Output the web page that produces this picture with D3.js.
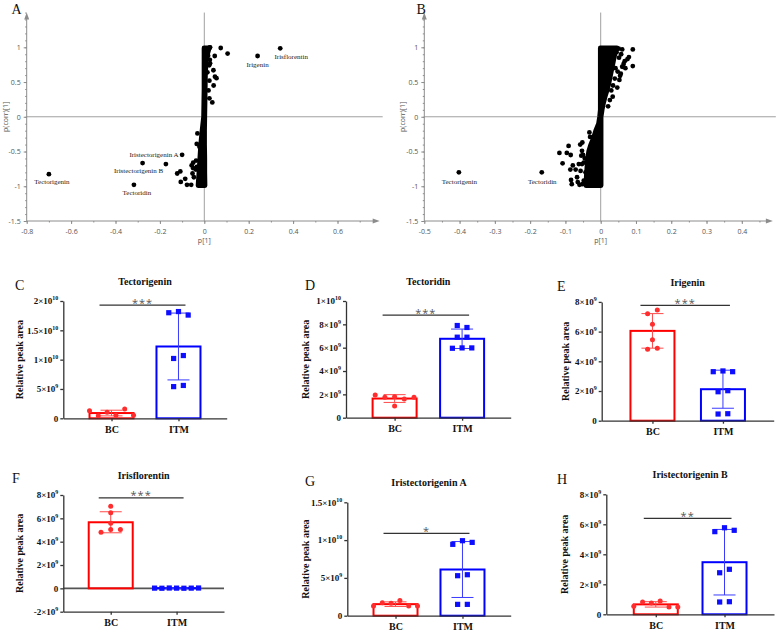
<!DOCTYPE html>
<html>
<head>
<meta charset="utf-8">
<script src="https://cdn.jsdelivr.net/npm/d3@7"></script>
<style>
body { margin: 0; background: #fff; }
svg { display: block; }
</style>
</head>
<body>
<svg width="779" height="633"></svg>
<script>
/** S-plot data (panels A and B): [p[1], p(corr)[1]] */
var aNames = ["Tectorigenin", "Tectoridin", "Iristectorigenin B", "Iristectorigenin A", "Irigenin", "Irisflorentin"];
var aNamedX = [-0.70, -0.317, -0.278, -0.10, 0.24, 0.342];
var aNamedY = [-0.826, -0.98, -0.667, -0.547, 0.875, 0.985];
var aOther = [
  [0.074, 0.99], [0.105, 0.91], [0.047, 0.875], [0.024, 0.995], [0.026, 1.0], [0.025, 0.82], [0.026, 0.77],
  [0.041, 0.67], [0.048, 0.577], [0.055, 0.555], [0.042, 0.45], [0.036, 0.207], [0.023, 0.265],
  [0.019, 0.38], [0.023, 0.52], [0.014, 0.64], [0.022, 0.74], [0.012, 0.93], [0.017, 0.88],
  [-0.031, -0.24], [-0.034, -0.39], [-0.022, -0.43], [-0.037, -0.63], [-0.05, -0.66], [-0.057, -0.70],
  [-0.122, -0.816], [-0.108, -0.787], [-0.106, -0.937], [-0.086, -0.893], [-0.078, -0.98], [-0.059, -0.98],
  [-0.053, -0.816], [-0.047, -0.87], [-0.038, -0.76], [-0.05, -0.74], [-0.034, -0.72], [-0.173, -0.68]
];
// dense centre of the cloud: [p(corr), lowest p, highest p]
var aCore = [
  [0.99, -0.001, 0.022], [0.9, -0.001, 0.014], [0.8, -0.001, 0.008], [0.6, -0.001, 0.005],
  [0.4, -0.001, 0.004], [0.2, -0.002, 0.003], [0.0, -0.003, 0.002], [-0.2, -0.010, 0.001],
  [-0.4, -0.016, 0.001], [-0.6, -0.020, 0.002], [-0.8, -0.024, 0.002], [-0.99, -0.028, 0.003]
];

var bNames = ["Tectorigenin", "Tectoridin"];
var bNamedX = [-0.402, -0.167];
var bNamedY = [-0.80, -0.80];
var bOther = [
  [-0.117, -0.52], [-0.108, -0.67], [-0.091, -0.42], [-0.096, -0.52], [-0.085, -0.55], [-0.079, -0.70],
  [-0.086, -0.76], [-0.084, -0.91], [-0.082, -0.97], [-0.067, -0.87], [-0.065, -0.94], [-0.06, -0.98],
  [-0.071, -0.76], [-0.062, -0.68], [-0.053, -0.68], [-0.048, -0.66], [-0.052, -0.37], [-0.058, -0.40],
  [-0.032, -0.225], [-0.03, -0.29], [-0.053, -0.49], [-0.055, -0.56], [-0.043, -0.80], [-0.057, -0.78],
  [-0.045, -0.60], [-0.05, -0.55], [-0.048, -0.92], [-0.052, -0.97],
  [0.061, 0.97], [0.051, 0.98], [0.091, 0.97], [0.091, 0.73], [0.070, 0.70], [0.080, 0.86], [0.068, 0.80],
  [0.076, 0.83], [0.055, 0.59], [0.053, 0.53], [0.047, 0.42], [0.034, 0.29], [0.026, 0.24], [0.021, 0.15],
  [0.061, 0.72], [0.037, 0.86], [0.030, 0.80], [0.058, 0.90], [0.045, 0.93], [0.052, 0.85], [0.065, 0.76],
  [0.042, 0.70], [0.048, 0.65], [0.057, 0.62], [0.04, 0.55], [0.035, 0.45], [0.030, 0.38]
];
var bCore = [
  [0.99, -0.001, 0.046], [0.9, -0.001, 0.040], [0.8, -0.001, 0.036], [0.7, -0.001, 0.032],
  [0.6, -0.001, 0.028], [0.5, -0.001, 0.024], [0.4, -0.001, 0.019], [0.3, -0.001, 0.013],
  [0.2, -0.001, 0.008], [0.1, -0.001, 0.004], [0.0, -0.003, 0.001], [-0.1, -0.006, 0.001],
  [-0.2, -0.014, 0.001], [-0.3, -0.020, 0.001], [-0.4, -0.028, 0.001], [-0.5, -0.034, 0.001],
  [-0.6, -0.037, 0.001], [-0.8, -0.040, 0.001], [-0.99, -0.042, 0.001]
];

var aXTicks = [-0.8, -0.6, -0.4, -0.2, 0, 0.2, 0.4, 0.6];
var bXTicks = [-0.5, -0.4, -0.3, -0.2, -0.1, 0, 0.1, 0.2, 0.3, 0.4];
var sYTicks = [-1.5, -1, -0.5, 0, 0.5, 1];

/** Bar chart data (panels C-H): relative peak area per sample */
var cats = ["BC", "ITM"];
var bcTectorigenin = [1.30e9, 0.44e9, 1.02e9, 0.51e9, 1.59e9, 0.51e9];
var itmTectorigenin = [18.0e9, 18.2e9, 17.6e9, 10.2e9, 10.7e9, 5.4e9, 5.6e9];
var bcTectoridin = [1.95e9, 1.75e9, 1.8e9, 1.0e9, 1.6e9, 1.75e9];
var itmTectoridin = [7.9e9, 7.73e9, 6.9e9, 6.9e9, 5.95e9, 5.98e9, 5.98e9];
var bcIrigenin = [7.2e9, 7.46e9, 6.49e9, 5.45e9, 4.81e9, 4.88e9];
var itmIrigenin = [3.3e9, 3.35e9, 3.3e9, 1.95e9, 2.02e9, 0.45e9, 0.47e9];
var bcIrisflorentin = [7.04e9, 6.47e9, 5.58e9, 4.81e9, 5.04e9, 5.04e9];
var itmIrisflorentin = [0.02e9, 0.01e9, 0.03e9, 0.02e9, 0.01e9, 0.02e9, 0.03e9];
var bcIristectorigeninA = [1.28e9, 1.7e9, 1.65e9, 2.0e9, 1.27e9, 1.27e9];
var itmIristectorigeninA = [9.44e9, 9.92e9, 9.7e9, 5.29e9, 5.42e9, 1.5e9, 1.5e9];
var bcIristectorigeninB = [0.53e9, 0.82e9, 0.75e9, 0.89e9, 0.49e9, 0.49e9];
var itmIristectorigeninB = [5.51e9, 5.77e9, 5.6e9, 2.77e9, 3.0e9, 0.82e9, 0.84e9];
var stars = ["***", "***", "***", "***", "*", "**"];

var svg = d3.select("svg");
var serif = "'Liberation Serif','Times New Roman',serif";
var sans = "'Open Sans','DejaVu Sans',sans-serif";

function letter(t, x, y) {
    svg.append("text").attr("x", x).attr("y", y)
        .attr("font-family", serif).attr("font-size", 14).attr("fill", "#111")
        .text(t);
}

function num(d) { return String(+d.toFixed(2)); }

/**S-plot*/
function scatter(o) {
    var g = svg.append("g");
    var x = d3.scaleLinear().domain(o.xDomain).range(o.xRange);
    var y = d3.scaleLinear().domain([-1.5, 1]).range([221, 47.3]);
    var col = "#8c8c8c";
    var xl = x(o.xDomain[0]), xr = x(o.xEnd), yb = y(-1.5), yt = y(1.5);

    // reference lines through 0
    g.append("line").attr("x1", x(0)).attr("x2", x(0)).attr("y1", yt).attr("y2", yb)
        .attr("stroke", "#a0a0a0").attr("stroke-width", 1);
    g.append("line").attr("x1", xl).attr("x2", xr + 3).attr("y1", y(0)).attr("y2", y(0))
        .attr("stroke", "#a0a0a0").attr("stroke-width", 1);

    // axes with arrow heads
    g.append("line").attr("x1", xl).attr("x2", xl).attr("y1", yb).attr("y2", yt + 4)
        .attr("stroke", col);
    g.append("line").attr("x1", xl).attr("x2", xr - 4).attr("y1", yb).attr("y2", yb)
        .attr("stroke", col);
    g.append("path").attr("d", "M" + xl + "," + yt + "l-2.5,7h5z").attr("fill", col);
    g.append("path").attr("d", "M" + xr + "," + yb + "l-7,-2.5v5z").attr("fill", col);

    var xa = g.append("g").attr("transform", "translate(0," + yb + ")")
        .call(d3.axisBottom(x).tickValues(o.xTicks).tickSize(3).tickPadding(5).tickSizeOuter(0).tickFormat(num));
    var xm = g.append("g").attr("transform", "translate(0," + yb + ")")
        .call(d3.axisBottom(x).tickValues(o.xMinor).tickSize(1.5).tickSizeOuter(0).tickFormat(""));
    var ya = g.append("g").attr("transform", "translate(" + xl + ",0)")
        .call(d3.axisLeft(y).tickValues(sYTicks).tickSize(3).tickSizeOuter(0).tickFormat(num));
    var ym = g.append("g").attr("transform", "translate(" + xl + ",0)")
        .call(d3.axisLeft(y).tickValues(d3.range(-15, 16).map(function(k) { return k / 10; })).tickSize(1.5).tickSizeOuter(0).tickFormat(""));
    [xa, xm, ya, ym].forEach(function(a) {
        a.select(".domain").remove();
        a.selectAll("line").attr("stroke", col);
        a.selectAll("text").attr("font-family", sans).attr("font-size", 7).attr("fill", "#555");
    });

    g.append("text").attr("x", x(0)).attr("y", 243).attr("text-anchor", "middle")
        .attr("font-family", sans).attr("font-size", 7).attr("fill", "#555").text("p[1]");
    g.append("text").attr("transform", "translate(" + (xl - 19) + "," + y(0) + ") rotate(-90)")
        .attr("text-anchor", "middle").attr("font-family", sans).attr("font-size", 7)
        .attr("fill", "#555").text("p(corr)[1]");

    // dense part of the cloud
    var area = d3.area()
        .y(function(d) { return y(d[0]); })
        .x0(function(d) { return x(d[1]); })
        .x1(function(d) { return x(d[2]); });
    g.append("path").datum(o.core).attr("d", area)
        .attr("fill", "#000").attr("stroke", "#000").attr("stroke-width", 4.8)
        .attr("stroke-linejoin", "round");

    g.selectAll("circle.o").data(o.other).enter().append("circle")
        .attr("cx", function(d) { return x(d[0]); })
        .attr("cy", function(d) { return y(d[1]); })
        .attr("r", 2.4).attr("fill", "#000");

    o.names.forEach(function(n, i) {
        var px = x(o.nx[i]), py = y(o.ny[i]);
        var lp = o.place[n];
        g.append("circle").attr("cx", px).attr("cy", py).attr("r", 2.4).attr("fill", "#000");
        g.append("text").attr("x", px + lp[0]).attr("y", py + lp[1])
            .attr("text-anchor", lp[2]).attr("font-family", serif).attr("font-size", 7)
            .attr("fill", "#222").text(n);
    });
}

scatter({
    xDomain: [-0.8, 0.6], xRange: [26.7, 337.5], xEnd: 0.79,
    xTicks: aXTicks, xMinor: d3.range(-8, 8).map(function(k) { return k / 10; }),
    core: aCore, other: aOther, names: aNames, nx: aNamedX, ny: aNamedY,
    place: {
        "Tectorigenin": [3, 10, "middle"], "Tectoridin": [3, 10.5, "middle"],
        "Iristectorigenin B": [-4, 10, "middle"], "Iristectorigenin A": [-3.5, 2.5, "end"],
        "Irigenin": [0, 11, "middle"], "Irisflorentin": [11, 11, "middle"]
    }
});
scatter({
    xDomain: [-0.5, 0.4], xRange: [424.3, 741.8], xEnd: 0.488,
    xTicks: bXTicks, xMinor: d3.range(-10, 10).map(function(k) { return k / 20; }),
    core: bCore, other: bOther, names: bNames, nx: bNamedX, ny: bNamedY,
    place: { "Tectorigenin": [0.5, 11.5, "middle"], "Tectoridin": [0.5, 11.5, "middle"] }
});
letter("A", 11.5, 14);
letter("B", 416.5, 14);

/**tick label like 2×10^10 */
function sci(v) {
    if (v === 0) return ["0", ""];
    var s = v < 0 ? "-" : "";
    var a = Math.abs(v);
    var e = Math.floor(Math.log10(a) + 1e-9);
    var m = +(a / Math.pow(10, e)).toFixed(1);
    return [s + m + "\u00d710", String(e)];
}

/**horizontal offsets of points that sit at about the same height*/
function spread(vals, y, bw) {
    var idx = vals.map(function(v, i) { return i; }).sort(function(a, b) { return vals[a] - vals[b]; });
    var rows = [], cur = [idx[0]];
    for (var k = 1; k < idx.length; k++) {
        if (Math.abs(y(vals[idx[k]]) - y(vals[idx[k - 1]])) < 4.5) cur.push(idx[k]);
        else { rows.push(cur); cur = [idx[k]]; }
    }
    rows.push(cur);
    var off = [];
    rows.forEach(function(r) {
        r.sort(function(a, b) { return a - b; });
        var n = r.length, s = n > 1 ? Math.min(9.7, bw / (n - 1)) : 0;
        r.forEach(function(id, j) { off[id] = (j - (n - 1) / 2) * s; });
    });
    return off;
}

/**Bar chart with mean ± SD and individual points*/
function barPanel(p, bc, itm, star) {
    var g = svg.append("g");
    var bw = 44;
    var x = d3.scalePoint().domain(cats).range([p.x0, p.x1]).padding(0.72);
    var y = d3.scaleLinear().domain(p.yDomain).range(p.yRange);
    var groups = [bc, itm];
    var stroke = ["#ff0000", "#0000ff"], err = ["#ff4a4a", "#3a3aff"], fill = ["#ff2d2d", "#0d0dff"];
    var axisCol = "#333";

    letter(p.letter, p.lx, p.ly);
    g.append("text").attr("x", (p.x0 + p.x1) / 2).attr("y", y.range()[1] - 16)
        .attr("text-anchor", "middle").attr("font-family", serif).attr("font-weight", "bold")
        .attr("font-size", 10).attr("fill", "#111").text(p.title);
    g.append("text").attr("transform", "translate(" + p.labelX + "," + d3.mean(y.range()) + ") rotate(-90)")
        .attr("text-anchor", "middle").attr("dy", "0.35em").attr("font-family", serif)
        .attr("font-weight", "bold").attr("font-size", 10).attr("fill", "#111").text("Relative peak area");

    // zero line when the axis goes below zero
    if (p.yDomain[0] < 0) {
        g.append("line").attr("x1", p.x0).attr("x2", p.x1).attr("y1", y(0)).attr("y2", y(0))
            .attr("stroke", "#555").attr("stroke-width", 1.6);
    }

    groups.forEach(function(vals, i) {
        var m = d3.mean(vals), sd = d3.deviation(vals), cx = x(cats[i]);
        g.append("rect").attr("x", cx - bw / 2).attr("y", y(m)).attr("width", bw)
            .attr("height", Math.max(0, y(0) - y(m)))
            .attr("fill", "none").attr("stroke", stroke[i]).attr("stroke-width", 2);
        var eg = g.append("g").attr("stroke", err[i]).attr("stroke-width", 1);
        eg.append("line").attr("x1", cx).attr("x2", cx).attr("y1", y(m - sd)).attr("y2", y(m + sd));
        [m - sd, m + sd].forEach(function(v) {
            eg.append("line").attr("x1", cx - 11).attr("x2", cx + 11).attr("y1", y(v)).attr("y2", y(v));
        });
        var off = spread(vals, y, bw);
        vals.forEach(function(v, j) {
            if (i === 0) {
                g.append("circle").attr("cx", cx + off[j]).attr("cy", y(v)).attr("r", 2.5).attr("fill", fill[i]);
            } else {
                g.append("rect").attr("x", cx + off[j] - 2.6).attr("y", y(v) - 2.6)
                    .attr("width", 5.2).attr("height", 5.2).attr("fill", fill[i]);
            }
        });
    });

    // axes
    var ya = g.append("g").attr("transform", "translate(" + p.x0 + ",0)")
        .call(d3.axisLeft(y).tickValues(p.ticks).tickSize(3).tickSizeOuter(0).tickFormat(""));
    ya.selectAll(".tick").each(function(d) {
        var parts = sci(d);
        var t = d3.select(this).append("text").attr("x", -5).attr("dy", "0.32em")
            .attr("text-anchor", "end").attr("fill", "#111");
        t.append("tspan").text(parts[0]);
        if (parts[1]) t.append("tspan").attr("dy", -4).attr("font-size", 6).text(parts[1]);
    });
    var xa = g.append("g").attr("transform", "translate(0," + y(p.yDomain[0]) + ")")
        .call(d3.axisBottom(x).tickSize(3).tickSizeOuter(0));
    xa.selectAll("text").attr("y", 14.5).attr("dy", 0).attr("font-size", 10).attr("fill", "#111");
    [ya, xa].forEach(function(a) {
        a.attr("font-family", serif).attr("font-weight", "bold").attr("font-size", 9);
        a.selectAll("path, line").attr("stroke", axisCol).attr("stroke-width", 1.3);
    });

    // significance bar
    var sy = y(p.sig);
    g.append("line").attr("x1", x(cats[0]) - 12).attr("x2", x(cats[1]) + 7).attr("y1", sy).attr("y2", sy)
        .attr("stroke", "#333").attr("stroke-width", 1.2);
    g.append("text").attr("x", (x(cats[0]) - 12 + x(cats[1]) + 7) / 2).attr("y", sy + 1.5)
        .attr("text-anchor", "middle").attr("font-family", sans).attr("font-size", 11)
        .attr("letter-spacing", 1).attr("fill", "#555").text(star);
}

barPanel({ letter: "C", lx: 15, ly: 290, title: "Tectorigenin", x0: 63.3, x1: 226.7, labelX: 19,
    yDomain: [0, 2e10], yRange: [418.3, 301], ticks: [0, 5e9, 1e10, 1.5e10, 2e10], sig: 19.3e9 },
    bcTectorigenin, itmTectorigenin, stars[0]);
barPanel({ letter: "D", lx: 305, ly: 290, title: "Tectoridin", x0: 346, x1: 510.7, labelX: 305,
    yDomain: [0, 1e10], yRange: [417.7, 301], ticks: [0, 2e9, 4e9, 6e9, 8e9, 1e10], sig: 8.79e9 },
    bcTectoridin, itmTectoridin, stars[1]);
barPanel({ letter: "E", lx: 557, ly: 291, title: "Irigenin", x0: 601.7, x1: 773.7, labelX: 565,
    yDomain: [0, 8e9], yRange: [420.7, 301.9], ticks: [0, 2e9, 4e9, 6e9, 8e9], sig: 7.77e9 },
    bcIrigenin, itmIrigenin, stars[2]);
barPanel({ letter: "F", lx: 12, ly: 483, title: "Irisflorentin", x0: 63.3, x1: 224, labelX: 19,
    yDomain: [-2e9, 8e9], yRange: [611.7, 495], ticks: [-2e9, 0, 2e9, 4e9, 6e9, 8e9], sig: 7.76e9 },
    bcIrisflorentin, itmIrisflorentin, stars[3]);
barPanel({ letter: "G", lx: 305, ly: 486, title: "Iristectorigenin A", x0: 347.3, x1: 510.7, labelX: 305,
    yDomain: [0, 1.5e10], yRange: [615.7, 502.3], ticks: [0, 5e9, 1e10, 1.5e10], sig: 10.9e9 },
    bcIristectorigeninA, itmIristectorigeninA, stars[4]);
barPanel({ letter: "H", lx: 557, ly: 484, title: "Iristectorigenin B", x0: 606.3, x1: 774, labelX: 564,
    yDomain: [0, 8e9], yRange: [614.3, 494.3], ticks: [0, 2e9, 4e9, 6e9, 8e9], sig: 6.4e9 },
    bcIristectorigeninB, itmIristectorigeninB, stars[5]);
</script>
</body>
</html>
